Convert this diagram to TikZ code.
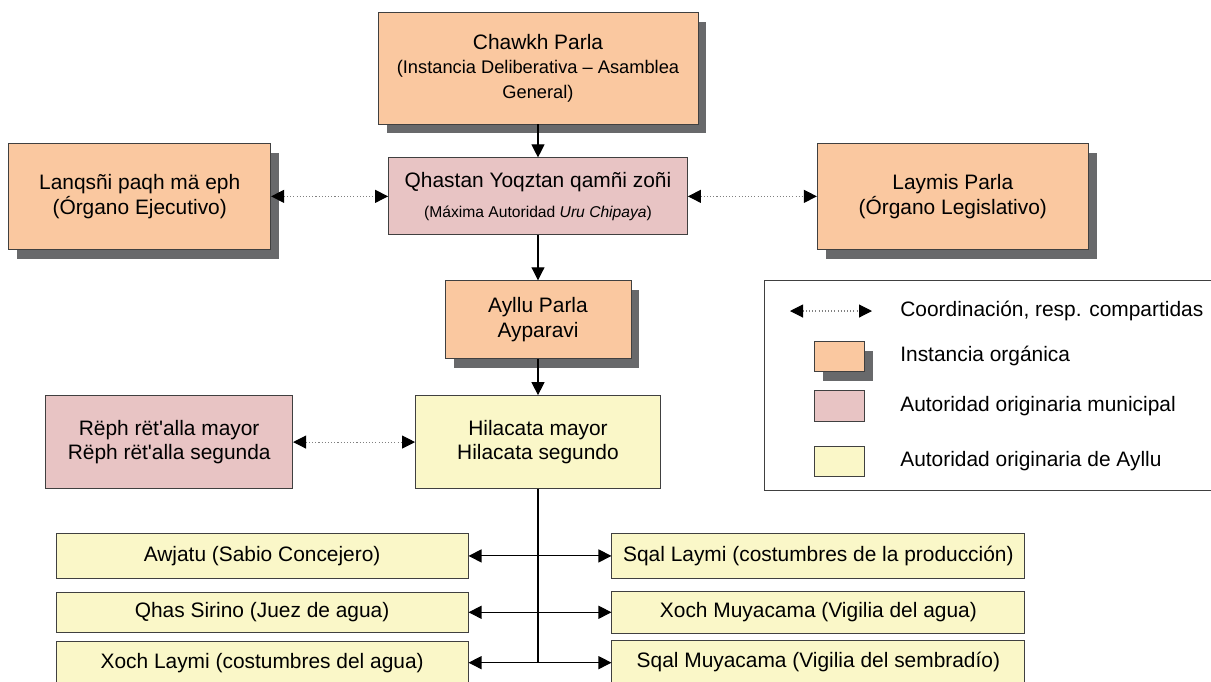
\documentclass[tikz,border=0pt]{standalone}
\usepackage{fontspec}
\setmainfont{Liberation Sans}
\usetikzlibrary{arrows.meta, positioning, shadows}
\definecolor{organoorange}{RGB}{250,200,160}
\definecolor{autoridadpink}{RGB}{232,196,196}
\definecolor{ayllucream}{RGB}{250,247,200}
\definecolor{shadowgray}{RGB}{104,105,107}
\definecolor{framegray}{RGB}{64,64,64}
\newcommand{\subtxt}{\fontsize{10.4}{12}\selectfont}
\newcommand{\smalltxt}{\fontsize{8.9}{11}\selectfont}

\begin{document}
\begin{tikzpicture}[
    x=0.02cm, y=-0.02cm,
    font=\fontsize{11.9}{14}\selectfont,
    organo/.style={
        rectangle,
        draw=framegray,
        fill=organoorange,
        line width=0.5pt,
        inner sep=0pt,
        align=center,
        drop shadow={fill=shadowgray, opacity=1, shadow xshift=0.17cm, shadow yshift=-0.19cm}
    },
    autoridad/.style={
        rectangle,
        draw=framegray,
        fill=autoridadpink,
        line width=0.5pt,
        inner sep=0pt,
        align=center
    },
    ayllu/.style={
        rectangle,
        draw=framegray,
        fill=ayllucream,
        line width=0.5pt,
        inner sep=0pt,
        align=center
    },
    label/.style={anchor=west, inner sep=0pt},
    edge/.style={-{Triangle[length=2.6mm, width=2.6mm]}, line width=0.6pt, draw=black},
    trunk/.style={line width=0.6pt, draw=black},
    ramal/.style={{Triangle[length=2.6mm, width=2.6mm]}-{Triangle[length=2.6mm, width=2.6mm]}, line width=0.6pt, draw=black},
    coord/.style={{Triangle[length=2.6mm, width=2.6mm, color=black]}-{Triangle[length=2.6mm, width=2.6mm, color=black]},
        line width=0.6pt, draw=gray, dash pattern=on 0.6pt off 1.2pt}
]
    \useasboundingbox (0,0) rectangle (1211,681);

    % Top: deliberative body and maximum authority
    \node[organo, minimum width=6.4cm, minimum height=2.24cm] (chawkh) at (538,68)
        {Chawkh Parla\\[0pt] \subtxt (Instancia Deliberativa – Asamblea\\ \subtxt General)};
    \node[autoridad, minimum width=5.98cm, minimum height=1.54cm, below=0.66cm of chawkh] (qhastan)
        {Qhastan Yoqztan qamñi zoñi\\[3pt] \smalltxt (Máxima Autoridad \textit{Uru Chipaya})};
    \node[organo, minimum width=5.24cm, minimum height=2.12cm, left=2.34cm of qhastan] (lanqsni)
        {Lanqsñi paqh mä eph\\ (Órgano Ejecutivo)};
    \node[organo, minimum width=5.42cm, minimum height=2.12cm, right=2.58cm of qhastan] (laymis)
        {Laymis Parla\\ (Órgano Legislativo)};

    % Middle: Ayllu level
    \node[organo, minimum width=3.72cm, minimum height=1.56cm, below=0.9cm of qhastan] (ayllu)
        {Ayllu Parla\\ Ayparavi};
    \node[ayllu, minimum width=4.9cm, minimum height=1.86cm, below=0.72cm of ayllu] (hilacata)
        {Hilacata mayor\\ Hilacata segundo};
    \node[autoridad, minimum width=4.94cm, minimum height=1.86cm, left=2.44cm of hilacata] (reph)
        {Rëph rët\textquotesingle alla mayor\\ Rëph rët\textquotesingle alla segunda};

    % Bottom: left column
    \node[ayllu, minimum width=8.24cm, minimum height=0.9cm, anchor=north east] (awjatu)
        at ([xshift=-1.39cm, yshift=-0.88cm]hilacata.south) {Awjatu (Sabio Concejero)};
    \node[ayllu, minimum width=8.24cm, minimum height=0.8cm, below=0.26cm of awjatu] (qhas)
        {Qhas Sirino (Juez de agua)};
    \node[ayllu, minimum width=8.24cm, minimum height=0.84cm, below=0.17cm of qhas] (xochlaymi)
        {Xoch Laymi (costumbres del agua)};

    % Bottom: right column
    \node[ayllu, minimum width=8.26cm, minimum height=0.9cm, anchor=north west] (sqallaymi)
        at ([xshift=1.47cm, yshift=-0.88cm]hilacata.south) {Sqal Laymi (costumbres de la producción)};
    \node[ayllu, minimum width=8.26cm, minimum height=0.84cm, below=0.24cm of sqallaymi] (xochmuya)
        {Xoch Muyacama (Vigilia del agua)};
    \node[ayllu, minimum width=8.26cm, minimum height=0.84cm, below=0.13cm of xochmuya] (sqalmuya)
        {Sqal Muyacama (Vigilia del sembradío)};

    % Legend
    \node[draw=framegray, line width=0.5pt, minimum width=9.12cm, minimum height=4.2cm,
        inner sep=0pt, anchor=north west] (leyenda) at (764,280) {};
    \coordinate (lgA) at (790,311);
    \coordinate (lgB) at (872,311);
    \node[label] (lgcoord) at (900,311) {Coordinación, resp. compartidas};
    \node[organo, minimum width=1cm, minimum height=0.6cm] (lgorg) at (839,356) {};
    \node[label] (lgorgtxt) at (900,356) {Instancia orgánica};
    \node[autoridad, minimum width=1cm, minimum height=0.62cm] (lgaut) at (839,405.5) {};
    \node[label] (lgauttxt) at (900,406) {Autoridad originaria municipal};
    \node[ayllu, minimum width=1cm, minimum height=0.6cm] (lgayl) at (839,461) {};
    \node[label] (lgayltxt) at (900,461) {Autoridad originaria de Ayllu};

    % Hierarchy
    \draw[edge] (chawkh) -- (qhastan);
    \draw[edge] (qhastan) -- (ayllu);
    \draw[edge] (ayllu) -- (hilacata);
    \draw[trunk] (hilacata.south) -- (hilacata.south |- xochlaymi.east);

    % Coordination
    \draw[coord] (lanqsni) -- (qhastan);
    \draw[coord] (qhastan) -- (laymis);
    \draw[coord] (reph) -- (hilacata);
    \draw[coord] (lgA) -- (lgB);

    % Branches
    \draw[ramal] (awjatu.east) -- (awjatu.east -| sqallaymi.west);
    \draw[ramal] (qhas.east) -- (qhas.east -| xochmuya.west);
    \draw[ramal] (xochlaymi.east) -- (xochlaymi.east -| sqalmuya.west);
\end{tikzpicture}
\end{document}
